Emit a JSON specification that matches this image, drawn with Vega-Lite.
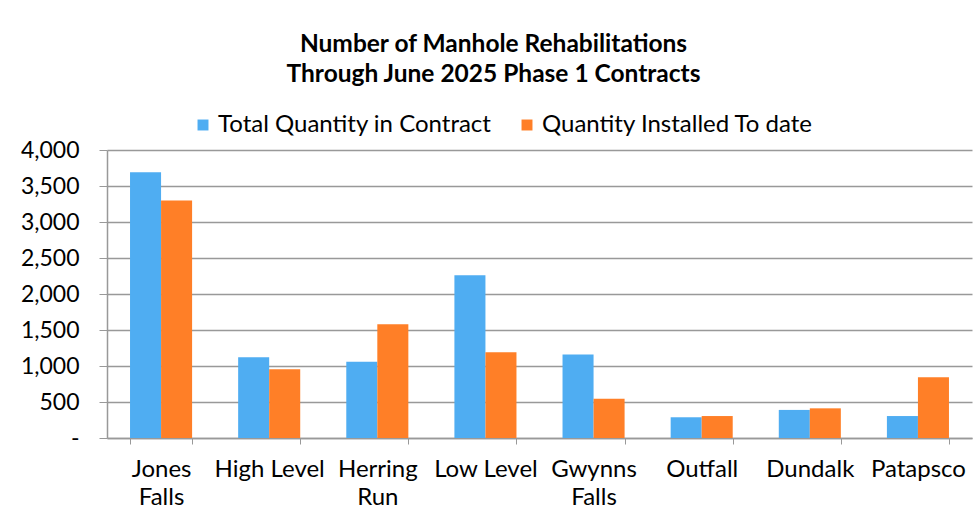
{
  "$schema": "https://vega.github.io/schema/vega-lite/v6.json",
  "width": 865,
  "height": 288,
  "autosize": {"type": "none"},
  "padding": {"left": 107, "top": 150, "right": 7, "bottom": 91},
  "background": "white",
  "title": {
    "text": ["Number of Manhole Rehabilitations", "Through June 2025 Phase 1 Contracts"],
    "font": "Lato",
    "fontSize": 24.5,
    "fontWeight": "bold",
    "color": "#000000",
    "lineHeight": 30,
    "anchor": "middle",
    "frame": "group",
    "dx": -46,
    "offset": 26
  },
  "data": {
    "values": [
      {"district": "Jones Falls", "series": "Total Quantity in Contract", "value": 3690},
      {"district": "Jones Falls", "series": "Quantity Installed To date", "value": 3300},
      {"district": "High Level", "series": "Total Quantity in Contract", "value": 1120},
      {"district": "High Level", "series": "Quantity Installed To date", "value": 955},
      {"district": "Herring Run", "series": "Total Quantity in Contract", "value": 1060},
      {"district": "Herring Run", "series": "Quantity Installed To date", "value": 1580},
      {"district": "Low Level", "series": "Total Quantity in Contract", "value": 2260},
      {"district": "Low Level", "series": "Quantity Installed To date", "value": 1190},
      {"district": "Gwynns Falls", "series": "Total Quantity in Contract", "value": 1160},
      {"district": "Gwynns Falls", "series": "Quantity Installed To date", "value": 545},
      {"district": "Outfall", "series": "Total Quantity in Contract", "value": 288},
      {"district": "Outfall", "series": "Quantity Installed To date", "value": 305},
      {"district": "Dundalk", "series": "Total Quantity in Contract", "value": 390},
      {"district": "Dundalk", "series": "Quantity Installed To date", "value": 412},
      {"district": "Patapsco", "series": "Total Quantity in Contract", "value": 305},
      {"district": "Patapsco", "series": "Quantity Installed To date", "value": 843}
    ]
  },
  "mark": {"type": "bar"},
  "encoding": {
    "x": {
      "field": "district",
      "type": "nominal",
      "sort": ["Jones Falls", "High Level", "Herring Run", "Low Level", "Gwynns Falls", "Outfall", "Dundalk", "Patapsco"],
      "scale": {"paddingInner": 0.426, "paddingOuter": 0.213},
      "axis": {
        "title": null,
        "labelAngle": 0,
        "labelFont": "Lato",
        "labelFontSize": 24,
        "labelColor": "#000000",
        "labelLineHeight": 28,
        "labelPadding": 13,
        "labelExpr": "indexof(['Jones Falls','Herring Run','Gwynns Falls'], datum.value) >= 0 ? split(datum.value, ' ') : datum.value",
        "tickBand": "extent",
        "tickSize": 6,
        "tickColor": "#999999",
        "domainColor": "#999999",
        "domainWidth": 1.5,
        "grid": false
      }
    },
    "xOffset": {
      "field": "series",
      "type": "nominal",
      "sort": ["Total Quantity in Contract", "Quantity Installed To date"]
    },
    "y": {
      "field": "value",
      "type": "quantitative",
      "scale": {"domain": [0, 4000]},
      "axis": {
        "title": null,
        "values": [0, 500, 1000, 1500, 2000, 2500, 3000, 3500, 4000],
        "format": ",.0f",
        "labelExpr": "datum.value == 0 ? '-\u00a0\u00a0\u00a0\u00a0\u00a0' : datum.label",
        "labelFont": "Lato",
        "labelFontSize": 23,
        "labelColor": "#000000",
        "labelPadding": 20,
        "tickSize": 8,
        "tickColor": "#999999",
        "domainColor": "#999999",
        "domainWidth": 1.5,
        "gridColor": "#999999",
        "gridWidth": 1.5
      }
    },
    "color": {
      "field": "series",
      "type": "nominal",
      "scale": {
        "domain": ["Total Quantity in Contract", "Quantity Installed To date"],
        "range": ["#4FADF2", "#FF7F27"]
      },
      "legend": {
        "title": null,
        "orient": "none",
        "direction": "horizontal",
        "legendX": 84,
        "legendY": -37,
        "symbolType": "square",
        "symbolSize": 120,
        "symbolStrokeWidth": 0,
        "labelFont": "Lato",
        "labelFontSize": 24,
        "labelLimit": 400,
        "labelColor": "#000000",
        "labelOffset": 3,
        "columnPadding": 23
      }
    }
  },
  "config": {
    "view": {"stroke": null}
  }
}
